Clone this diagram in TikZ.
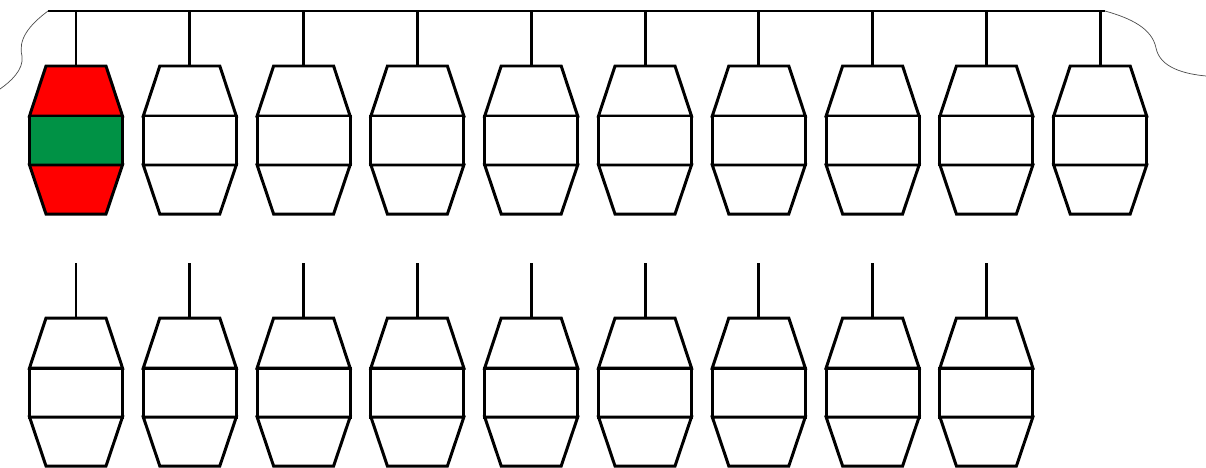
\documentclass[tikz,border=0pt]{standalone}
\usetikzlibrary{positioning}
\definecolor{PodRed}{RGB}{255, 0, 0}
\definecolor{PodGreen}{RGB}{0, 146, 69}
\tikzset{
    podline/.style={line width=1.7pt, line join=miter, draw=black},
    stemline/.style={line width=1.7pt, draw=black},
    railline/.style={line width=0.8pt, draw=black},
    cableline/.style={line width=0.4pt, draw=black!70},
    pics/pod/.style 2 args={code={
        \coordinate (-top) at (0,0);
        \draw[podline, fill=#1] (-30,0) -- (30,0) -- (46.5,50) -- (-46.5,50) -- cycle;
        \draw[podline, fill=#2] (-46.5,50) rectangle (46.5,99);
        \draw[podline, fill=#1] (-46.5,99) -- (46.5,99) -- (30,148) -- (-30,148) -- cycle;
    }},
}
\begin{document}
\begin{tikzpicture}[x=0.02cm, y=-0.02cm]
    \useasboundingbox (0,0) rectangle (1206,467);

    % Rail and cable ends
    \coordinate (railL) at (48,11);
    \coordinate (railR) at (1105,11);
    \coordinate (cableL) at (0,89);
    \coordinate (cableR) at (1206,76);
    \draw[railline] (railL) -- (railR);
    \draw[cableline] (railL) .. controls (28,26) and (18,40) .. (22,56) .. controls (24,70) and (10,82) .. (cableL);
    \draw[cableline] (railR) .. controls (1130,18) and (1152,28) .. (1156,48) .. controls (1160,68) and (1185,74) .. (cableR);

    % First row
    \foreach \i in {1,...,10}{
        \pgfmathsetmacro{\cx}{76+113.8*(\i-1)}
        \coordinate (hang\i) at (\cx,11);
        \ifnum\i=1
            \pic (pod\i) at (\cx,66) {pod={PodRed}{PodGreen}};
        \else
            \pic (pod\i) at (\cx,66) {pod={white}{white}};
        \fi
        \draw[stemline] (hang\i) -- (pod\i-top);
    }

    % Second row
    \foreach \i in {1,...,9}{
        \pgfmathsetmacro{\cx}{76+113.8*(\i-1)}
        \coordinate (low\i) at (\cx,263);
        \pic (podb\i) at (\cx,318) {pod={white}{white}};
        \draw[stemline] (low\i) -- (podb\i-top);
    }
\end{tikzpicture}
\end{document}
